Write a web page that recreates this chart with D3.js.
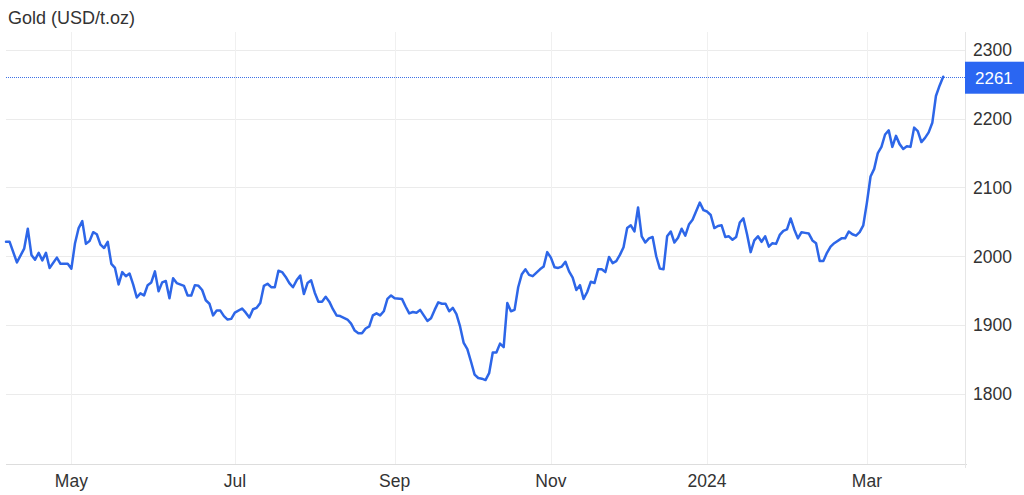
<!DOCTYPE html>
<html><head><meta charset="utf-8">
<script src="https://cdn.jsdelivr.net/npm/d3@7"></script>
<style>html,body{margin:0;padding:0;background:#fff;overflow:hidden}</style>
</head><body><svg id="chart" width="1024" height="495"></svg>
<script>
const title = "Gold (USD/t.oz)";
const dates = [
"2023-04-05","2023-04-06","2023-04-10","2023-04-12","2023-04-13","2023-04-14","2023-04-17","2023-04-18","2023-04-19","2023-04-20",
"2023-04-21","2023-04-25","2023-04-26","2023-04-28","2023-05-01","2023-05-02","2023-05-03","2023-05-04","2023-05-05","2023-05-08",
"2023-05-09","2023-05-10","2023-05-11","2023-05-12","2023-05-15","2023-05-16","2023-05-17","2023-05-18","2023-05-19","2023-05-22",
"2023-05-23","2023-05-24","2023-05-25","2023-05-26","2023-05-29","2023-05-30","2023-05-31","2023-06-01","2023-06-02","2023-06-05",
"2023-06-06","2023-06-07","2023-06-08","2023-06-09","2023-06-13","2023-06-14","2023-06-15","2023-06-16","2023-06-19","2023-06-20",
"2023-06-21","2023-06-22","2023-06-23","2023-06-26","2023-06-27","2023-06-28","2023-06-29","2023-06-30","2023-07-03","2023-07-05",
"2023-07-06","2023-07-07","2023-07-10","2023-07-11","2023-07-12","2023-07-13","2023-07-14","2023-07-17","2023-07-18","2023-07-19",
"2023-07-20","2023-07-21","2023-07-24","2023-07-25","2023-07-26","2023-07-27","2023-07-28","2023-07-31","2023-08-01","2023-08-02",
"2023-08-03","2023-08-04","2023-08-07","2023-08-08","2023-08-09","2023-08-10","2023-08-11","2023-08-15","2023-08-16","2023-08-17",
"2023-08-18","2023-08-21","2023-08-22","2023-08-23","2023-08-24","2023-08-25","2023-08-28","2023-08-29","2023-08-30","2023-08-31",
"2023-09-01","2023-09-05","2023-09-06","2023-09-07","2023-09-08","2023-09-11","2023-09-12","2023-09-13","2023-09-14","2023-09-15",
"2023-09-18","2023-09-19","2023-09-20","2023-09-21","2023-09-22","2023-09-25","2023-09-26","2023-09-27","2023-09-28","2023-09-29",
"2023-10-02","2023-10-03","2023-10-04","2023-10-05","2023-10-06","2023-10-09","2023-10-10","2023-10-11","2023-10-12","2023-10-13",
"2023-10-16","2023-10-17","2023-10-18","2023-10-19","2023-10-20","2023-10-23","2023-10-24","2023-10-25","2023-10-27","2023-10-30",
"2023-10-31","2023-11-01","2023-11-02","2023-11-03","2023-11-06","2023-11-07","2023-11-08","2023-11-09","2023-11-10","2023-11-13",
"2023-11-14","2023-11-15","2023-11-16","2023-11-17","2023-11-20","2023-11-21","2023-11-22","2023-11-23","2023-11-24","2023-11-27",
"2023-11-28","2023-11-29","2023-11-30","2023-12-01","2023-12-04","2023-12-05","2023-12-06","2023-12-07","2023-12-08","2023-12-11",
"2023-12-12","2023-12-13","2023-12-14","2023-12-15","2023-12-18","2023-12-19","2023-12-20","2023-12-21","2023-12-22","2023-12-25",
"2023-12-26","2023-12-28","2023-12-29","2024-01-01","2024-01-02","2024-01-03","2024-01-04","2024-01-05","2024-01-08","2024-01-09",
"2024-01-10","2024-01-11","2024-01-12","2024-01-15","2024-01-16","2024-01-17","2024-01-18","2024-01-19","2024-01-22","2024-01-23",
"2024-01-24","2024-01-25","2024-01-26","2024-01-29","2024-01-30","2024-01-31","2024-02-01","2024-02-02","2024-02-05","2024-02-06",
"2024-02-07","2024-02-08","2024-02-09","2024-02-12","2024-02-13","2024-02-14","2024-02-15","2024-02-16","2024-02-19","2024-02-21",
"2024-02-22","2024-02-23","2024-02-26","2024-02-27","2024-02-28","2024-02-29","2024-03-01","2024-03-04","2024-03-05","2024-03-06",
"2024-03-07","2024-03-08","2024-03-11","2024-03-12","2024-03-13","2024-03-14","2024-03-15","2024-03-18","2024-03-19","2024-03-20",
"2024-03-21","2024-03-22","2024-03-25","2024-03-26","2024-03-27","2024-03-28","2024-03-29","2024-04-01"
];
const prices = [
2021,2021,1991,2011,2040,2002,1995,2005,1994,2005,
1983,1998,1989,1989,1982,2019,2041,2051,2018,2022,
2035,2032,2017,2012,2021,1989,1983,1959,1977,1971,
1975,1959,1940,1946,1943,1958,1962,1978,1949,1962,
1964,1939,1968,1961,1957,1943,1943,1958,1957,1951,
1936,1931,1914,1921,1921,1913,1908,1909,1918,1924,
1918,1911,1923,1925,1932,1957,1960,1955,1955,1979,
1977,1970,1961,1955,1965,1972,1945,1961,1965,1947,
1934,1934,1941,1934,1923,1914,1913,1908,1902,1892,
1888,1888,1895,1898,1914,1917,1914,1920,1938,1943,
1939,1938,1927,1917,1919,1918,1922,1914,1906,1910,
1922,1933,1931,1931,1920,1925,1916,1898,1874,1865,
1847,1828,1823,1822,1820,1830,1860,1860,1873,1868,
1932,1920,1922,1955,1974,1981,1973,1971,1981,1985,
2006,1998,1984,1983,1985,1992,1978,1969,1951,1958,
1938,1948,1963,1961,1981,1981,1977,1999,1990,1993,
2002,2013,2041,2045,2036,2071,2029,2020,2026,2028,
2000,1982,1981,2029,2036,2020,2027,2040,2030,2046,
2053,2078,2067,2065,2060,2041,2044,2045,2028,2029,
2024,2028,2049,2055,2032,2006,2023,2029,2021,2029,
2014,2019,2018,2031,2037,2039,2055,2039,2026,2035,
2034,2033,2023,2019,1993,1993,2005,2014,2019,2026,
2026,2036,2032,2030,2035,2045,2078,2116,2127,2150,
2159,2177,2183,2159,2175,2163,2156,2160,2159,2187,
2182,2166,2172,2180,2194,2233,2248,2261
];
const yTicks = [1800, 1900, 2000, 2100, 2200, 2300];
const xTickDates = ["2023-05-01","2023-07-03","2023-09-01","2023-11-01","2024-01-01","2024-03-01"];
const xTickLabels = ["May","Jul","Sep","Nov","2024","Mar"];
const lastLabel = "2261";
const xDomain = ["2023-04-05","2024-04-09"];
const yDomain = [1698, 2326];

const parse = d3.utcParse("%Y-%m-%d");
const base = parse("2023-05-01");
// trading-day index (weekdays only), like the source chart's axis
function biz(d) {
  const days = d3.utcDay.count(base, d);
  const w = Math.floor(days / 7);
  const r = days - 7 * w;
  return 5 * w + Math.min(r, 5);
}

const L = 6, R = 965, T = 32, B = 464;
const svg = d3.select("#chart");
const font = "'Liberation Sans', Arial, sans-serif";

const x = d3.scaleLinear().domain(xDomain.map(s => biz(parse(s)))).range([L, R]);
const y = d3.scaleLinear().domain(yDomain).range([B, T]);

const data = dates.map((d, i) => ({ i: biz(parse(d)), v: prices[i] }));

// horizontal grid
svg.append("g").selectAll("line").data(yTicks).join("line")
  .attr("x1", L).attr("x2", R)
  .attr("y1", d => Math.round(y(d)) + 0.5).attr("y2", d => Math.round(y(d)) + 0.5)
  .attr("stroke", "#ebebeb").attr("stroke-width", 1);

// vertical grid
svg.append("g").selectAll("line").data(xTickDates).join("line")
  .attr("x1", d => Math.round(x(biz(parse(d)))) + 0.5).attr("x2", d => Math.round(x(biz(parse(d)))) + 0.5)
  .attr("y1", T).attr("y2", B)
  .attr("stroke", "#f0f0f0").attr("stroke-width", 1);

// axis frame (bottom and right)
svg.append("line").attr("x1", L).attr("x2", R + 2).attr("y1", B + 0.5).attr("y2", B + 0.5)
  .attr("stroke", "#dddddd");
svg.append("line").attr("x1", R + 0.5).attr("x2", R + 0.5).attr("y1", T).attr("y2", B + 4)
  .attr("stroke", "#e6e6e6");

// y tick labels
svg.append("g").selectAll("text").data(yTicks).join("text")
  .attr("x", R + 8).attr("y", d => y(d)).attr("dy", "0.36em")
  .attr("font-family", font).attr("font-size", 17.5).attr("fill", "#333")
  .text(d => d);

// x tick labels
svg.append("g").selectAll("text").data(xTickDates).join("text")
  .attr("x", d => x(biz(parse(d)))).attr("y", 487)
  .attr("text-anchor", "middle")
  .attr("font-family", font).attr("font-size", 17.5).attr("fill", "#333")
  .text((d, i) => xTickLabels[i]);

// title
svg.append("text").attr("x", 8).attr("y", 24)
  .attr("font-family", font).attr("font-size", 18).attr("fill", "#333")
  .text(title);

const last = data[data.length - 1];
// dotted last-value line
svg.append("line").attr("x1", L).attr("x2", R)
  .attr("y1", Math.round(y(last.v)) + 0.5).attr("y2", Math.round(y(last.v)) + 0.5)
  .attr("stroke", "#3f72e6").attr("stroke-width", 1).attr("stroke-dasharray", "1,1");

// price line
svg.append("path").datum(data)
  .attr("fill", "none").attr("stroke", "#2d66e8").attr("stroke-width", 2.5)
  .attr("stroke-linejoin", "round").attr("stroke-linecap", "round")
  .attr("d", d3.line().x(d => x(d.i)).y(d => y(d.v)));

// last value badge
const by = y(last.v);
svg.append("rect").attr("x", R).attr("y", by - 15).attr("width", 70).attr("height", 32)
  .attr("fill", "#2a66f2");
svg.append("text").attr("x", R + 10).attr("y", by + 1).attr("dy", "0.36em")
  .attr("font-family", font).attr("font-size", 17).attr("fill", "#fff")
  .text(lastLabel);
</script>
</body></html>
